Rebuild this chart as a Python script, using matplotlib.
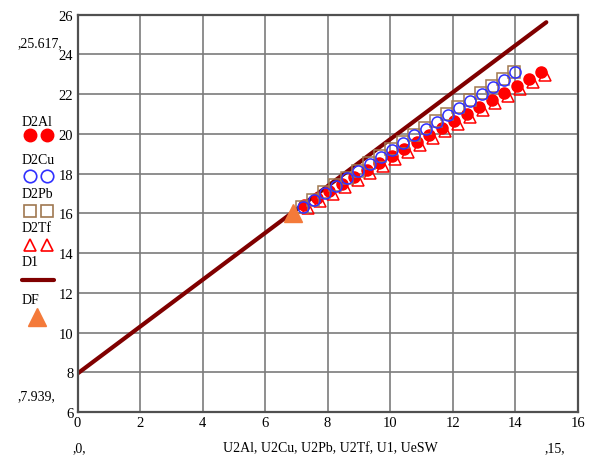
import matplotlib
matplotlib.use('Agg')
import matplotlib.pyplot as plt
from matplotlib.lines import Line2D

plt.rcParams['font.family'] = ['Liberation Serif', 'DejaVu Serif']

# data
al_x = [7.25, 7.65, 8.05, 8.45, 8.85, 9.25, 9.65, 10.05, 10.45, 10.85,
        11.25, 11.65, 12.05, 12.45, 12.85, 13.25, 13.65, 14.05, 14.45, 14.83]
al_y = [16.40, 16.76, 17.12, 17.47, 17.83, 18.18, 18.54, 18.89, 19.24, 19.60,
        19.95, 20.30, 20.65, 21.00, 21.35, 21.70, 22.05, 22.40, 22.75, 23.10]

cu_x = [7.20, 7.56, 7.92, 8.27, 8.63, 8.99, 9.35, 9.71, 10.06, 10.42,
        10.78, 11.14, 11.50, 11.85, 12.21, 12.57, 12.93, 13.29, 13.64, 14.00]
cu_y = [16.30, 16.66, 17.03, 17.39, 17.76, 18.12, 18.48, 18.84, 19.20, 19.56,
        19.92, 20.27, 20.62, 20.97, 21.32, 21.67, 22.02, 22.37, 22.72, 23.10]

pb_x = [7.18, 7.54, 7.90, 8.25, 8.61, 8.97, 9.33, 9.69, 10.04, 10.40,
        10.76, 11.12, 11.48, 11.83, 12.19, 12.55, 12.91, 13.27, 13.62, 13.98]
pb_y = [16.33, 16.69, 17.06, 17.42, 17.79, 18.15, 18.51, 18.87, 19.23, 19.59,
        19.95, 20.30, 20.65, 21.00, 21.35, 21.70, 22.05, 22.40, 22.75, 23.13]

tf_x = [7.37, 7.77, 8.17, 8.57, 8.97, 9.37, 9.77, 10.17, 10.57, 10.97,
        11.37, 11.77, 12.17, 12.57, 12.97, 13.37, 13.77, 14.17, 14.57, 14.95]
tf_y = [16.25, 16.61, 16.97, 17.32, 17.68, 18.03, 18.39, 18.74, 19.09, 19.45,
        19.80, 20.15, 20.50, 20.85, 21.20, 21.55, 21.90, 22.25, 22.60, 22.95]

d1_x = [0, 15]
d1_y = [7.939, 25.617]

df_x = [6.9]
df_y = [16.0]

x_ticks = [0, 2, 4, 6, 8, 10, 12, 14, 16]
y_ticks = [6, 8, 10, 12, 14, 16, 18, 20, 22, 24, 26]

red = '#ff0000'
blue = '#3030ff'
brown = '#a07850'
maroon = '#800000'
orange = '#f47a3a'

fig = plt.figure(figsize=(5.9, 4.6), dpi=100)
ax = fig.add_axes([0.1314, 0.102, 0.8475, 0.864])

ax.plot(d1_x, d1_y, color=maroon, lw=3, solid_capstyle='round', zorder=2)
ax.plot(tf_x, tf_y, '^', mfc='none', mec=red, ms=8, mew=1.1, zorder=3)
ax.plot(al_x, al_y, 'o', color=red, ms=8, zorder=3.5)
ax.plot(pb_x, pb_y, 's', mfc='none', mec=brown, ms=8, mew=1.1, zorder=4)
ax.plot(cu_x, cu_y, 'o', mfc='none', mec=blue, ms=8, mew=1.1, zorder=4.5)
ax.plot(df_x, df_y, '^', color=orange, ms=13, zorder=5)

ax.set_xlim(0, 16)
ax.set_ylim(6, 26)
ax.set_xticks(x_ticks)
ax.set_yticks(y_ticks)
ax.tick_params(length=0, labelsize=10.5, pad=3)
ax.grid(True, color='#7c7c7c', lw=1.2)
ax.set_axisbelow(True)
for s in ax.spines.values():
    s.set_color('#505050')
    s.set_linewidth(1.6)

# Mathcad style range labels
fig.text(0.03, 0.905, ',25.617,', fontsize=10, ha='left', va='center')
fig.text(0.03, 0.137, ',7.939,', fontsize=10, ha='left', va='center')
fig.text(0.135, 0.025, ',0,', fontsize=10, ha='center', va='center')
fig.text(0.94, 0.025, ',15,', fontsize=10, ha='center', va='center')
fig.text(0.56, 0.025, 'U2Al, U2Cu, U2Pb, U2Tf, U1, UeSW', fontsize=10,
         ha='center', va='center')

# legend on the left: label above the markers
W, H = 590, 460
def fx(px):
    return px / W
def fy(py):
    return 1 - py / H

items = [
    ('D2Al', 122, 136, dict(marker='o', color=red, ls='none', ms=9)),
    ('D2Cu', 160, 177, dict(marker='o', mfc='none', mec=blue, ls='none', ms=9, mew=1.2)),
    ('D2Pb', 195, 212, dict(marker='s', mfc='none', mec=brown, ls='none', ms=9, mew=1.2)),
    ('D2Tf', 229, 246, dict(marker='^', mfc='none', mec=red, ls='none', ms=9, mew=1.2)),
]
for label, ty, my, style in items:
    fig.text(fx(22), fy(ty), label, fontsize=10, ha='left', va='center')
    fig.add_artist(Line2D([fx(30), fx(47)], [fy(my), fy(my)], **style))

fig.text(fx(22), fy(263), 'D1', fontsize=10, ha='left', va='center')
fig.add_artist(Line2D([fx(22), fx(54)], [fy(281), fy(281)], color=maroon, lw=3,
                      solid_capstyle='round'))
fig.text(fx(22), fy(300), 'DF', fontsize=10, ha='left', va='center')
fig.add_artist(Line2D([fx(37)], [fy(318)], marker='^', color=orange, ms=13,
                      ls='none'))

fig.savefig('out.png', dpi=100)
